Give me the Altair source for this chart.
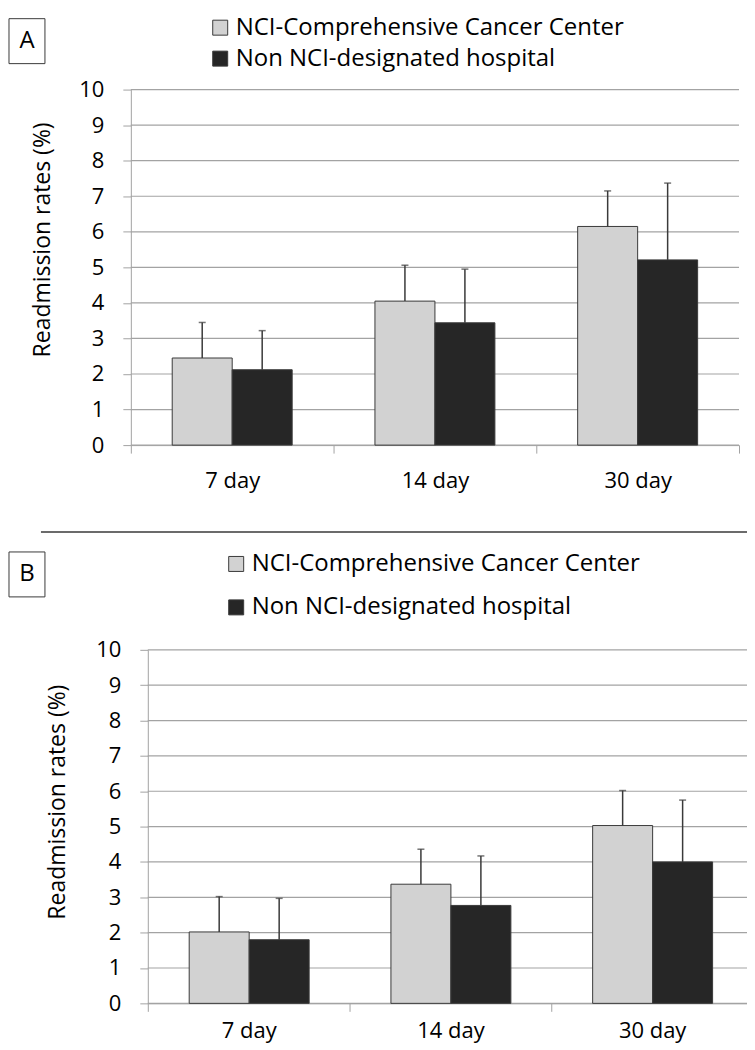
import altair as alt
import pandas as pd

# ---- data -------------------------------------------------------------
days = ["7 day", "14 day", "30 day"]
groups = ["NCI-Comprehensive Cancer Center", "Non NCI-designated hospital"]
y_ticks = [0, 1, 2, 3, 4, 5, 6, 7, 8, 9, 10]

# Panel A
a_nci = [2.45, 4.05, 6.15]
a_nci_upper = [3.45, 5.06, 7.15]
a_non = [2.12, 3.44, 5.21]
a_non_upper = [3.22, 4.95, 7.37]

# Panel B
b_nci = [2.02, 3.37, 5.03]
b_nci_upper = [3.02, 4.36, 6.02]
b_non = [1.80, 2.77, 4.00]
b_non_upper = [2.97, 4.17, 5.75]

FONT = "Open Sans"
GRID = "#a3a3a3"
DARK = "#3a3a3a"
FILLS = ["#d2d2d2", "#262626"]


def panel(letter, nci, nci_up, non, non_up, x0, W, H, geo):
    df = pd.DataFrame({
        "day": days * 2,
        "group": [groups[0]] * 3 + [groups[1]] * 3,
        "value": nci + non,
        "upper": nci_up + non_up,
    })
    x = alt.X("day:N", sort=days,
              scale=alt.Scale(paddingInner=0, paddingOuter=0, range=[x0, W]),
              axis=alt.Axis(title=None, labelAngle=0, labelFont=FONT, labelFontSize=22,
                            labelColor="#000000", labelPadding=geo["xlab_pad"],
                            tickBand="extent", tickSize=8, tickColor=GRID,
                            domainColor=GRID, grid=False))
    xo = alt.XOffset("group:N", sort=groups,
                     scale=alt.Scale(paddingInner=0, paddingOuter=0.69))
    yscale = alt.Scale(domain=[0, 10], nice=False)
    yaxis = alt.Axis(values=y_ticks, title="Readmission rates (%)", titleFont=FONT,
                     titleFontSize=23, titleFontWeight="normal", titleColor="#000000",
                     titleX=geo["title_x"], titleY=geo["title_y"], titleAngle=270,
                     titleAlign="center", titleBaseline="middle",
                     labelFont=FONT, labelFontSize=22, labelColor="#000000",
                     labelPadding=19, tickSize=8, tickColor=GRID, domainColor=GRID,
                     offset=-x0, grid=False)
    color = alt.Color("group:N", sort=groups,
                      scale=alt.Scale(domain=groups, range=FILLS), legend=None)

    grid = alt.Chart(pd.DataFrame({"t": y_ticks})).mark_rule(
        color=GRID, strokeWidth=1.2).encode(
        y=alt.Y("t:Q", scale=yscale, axis=yaxis), x=alt.value(x0), x2=alt.value(W))

    base = alt.Chart(df)
    bars = base.mark_bar(stroke=DARK, strokeWidth=1).encode(
        x=x, xOffset=xo, y=alt.Y("value:Q", scale=yscale, axis=yaxis), color=color)
    err = base.mark_rule(color=DARK, strokeWidth=1.5).encode(
        x=x, xOffset=xo, y=alt.Y("value:Q", scale=yscale, axis=yaxis), y2="upper:Q")
    cap = base.mark_tick(color=DARK, thickness=1.5, size=7).encode(
        x=x, xOffset=xo, y=alt.Y("upper:Q", scale=yscale, axis=yaxis))

    one = pd.DataFrame({"k": [0]})
    deco = []
    # panel letter box
    bx0, bx1, by0, by1 = geo["box"]
    deco.append(alt.Chart(one).mark_rect(fill="white", stroke=DARK, strokeWidth=1).encode(
        x=alt.value(bx0), x2=alt.value(bx1), y=alt.value(by0), y2=alt.value(by1)))
    deco.append(alt.Chart(one).mark_text(font=FONT, fontSize=24, color="#000000",
                                         align="center", baseline="middle").encode(
        x=alt.value((bx0 + bx1) / 2), y=alt.value((by0 + by1) / 2), text=alt.value(letter)))
    # legend
    lx = geo["leg_x"]
    for i, g in enumerate(groups):
        sy = geo["leg_y"][i]
        deco.append(alt.Chart(one).mark_rect(fill=FILLS[i], stroke=DARK, strokeWidth=1).encode(
            x=alt.value(lx), x2=alt.value(lx + 15), y=alt.value(sy - 7.5), y2=alt.value(sy + 7.5)))
        deco.append(alt.Chart(one).mark_text(font=FONT, fontSize=24, color="#000000",
                                             align="left", baseline="middle").encode(
            x=alt.value(lx + 23), y=alt.value(sy), text=alt.value(g)))
    if "sep" in geo:
        sx0, sx1, sy = geo["sep"]
        deco.append(alt.Chart(one).mark_rule(color=DARK, strokeWidth=1.5).encode(
            x=alt.value(sx0), x2=alt.value(sx1), y=alt.value(sy)))

    return alt.layer(grid, bars, err, cap, *deco).properties(width=W, height=H)


geoA = {"title_x": -88, "title_y": 150, "box": (-122, -86, -71, -26),
        "leg_x": 82, "leg_y": [-62, -31], "xlab_pad": 17}
geoB = {"title_x": -90, "title_y": 152, "box": (-122, -86, -98, -53),
        "leg_x": 98, "leg_y": [-86, -42.5], "xlab_pad": 9,
        "sep": (-90, 623, -118)}

pA = panel("A", a_nci, a_nci_upper, a_non, a_non_upper, 0, 609, 356, geoA)
pB = panel("B", b_nci, b_nci_upper, b_non, b_non_upper, 17, 623, 354, geoB)

chart = alt.concat(pA, pB, columns=1, bounds="full", spacing=40).properties(
    padding={"top": 7, "left": 0, "right": -7, "bottom": 2}, background="white"
).configure_view(stroke=None)

chart.save("out.html", embed_options={"renderer": "svg", "actions": False})
